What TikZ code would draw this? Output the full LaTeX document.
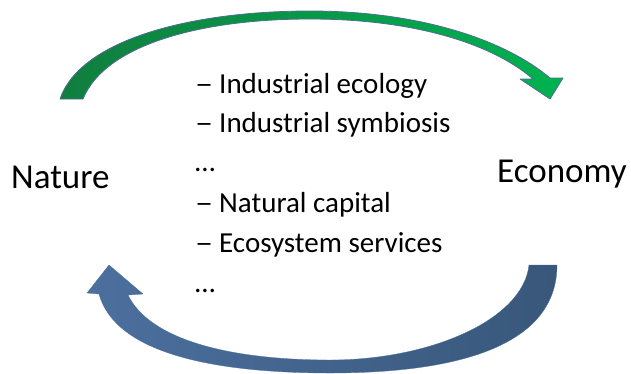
\documentclass[tikz,border=0pt]{standalone}
\usepackage{fontspec}
\setmainfont{Carlito}
\usetikzlibrary{positioning}
\definecolor{leafdark}{RGB}{16,126,62}
\definecolor{leaflight}{RGB}{0,178,80}
\definecolor{rimblue}{RGB}{79,109,150}
\definecolor{seablue}{RGB}{76,111,158}
\definecolor{deepblue}{RGB}{56,87,122}
\tikzstyle{bigword} = [inner sep=0pt, anchor=base west, font=\fontsize{35}{42}\selectfont]
\tikzstyle{listitem} = [inner sep=0pt, anchor=base west, font=\fontsize{29}{35}\selectfont]
\tikzstyle{greenarrow} = [left color=leafdark, right color=leaflight, draw=rimblue, line width=0.8pt, line join=round]
\tikzstyle{bluearrow} = [left color=seablue, right color=deepblue, draw=seablue, line width=0.3pt, line join=round]
\newcommand{\itemdash}{\makebox[24pt][l]{\scalebox{1.25}[1]{–}}}

\begin{document}
\begin{tikzpicture}[x=1pt, y=-1pt]
\useasboundingbox (0,0) rectangle (631,373);

\node (nature) [bigword] at (11,188) {Nature};
\node (economy) [bigword] at (497,182) {Economy};

\node (item1) [listitem] at (195,93) {\itemdash Industrial ecology};
\node (item2) [listitem] at (195,132) {\itemdash Industrial symbiosis};
\node (item3) [listitem] at (195,171) {…};
\node (item4) [listitem] at (195,212) {\itemdash Natural capital};
\node (item5) [listitem] at (195,252) {\itemdash Ecosystem services};
\node (item6) [listitem] at (195,292) {…};

% nature to economy
\draw [greenarrow] (60,99) .. controls (80,40) and (190,11) .. (310,11)
    .. controls (420,11) and (505,40) .. (550,78)
    -- (563,78) -- (550,99) -- (520,79) -- (533,79)
    .. controls (490,42) and (410,19) .. (310,19)
    .. controls (200,19) and (105,45) .. (83,99) -- cycle;

% economy to nature
\draw [bluearrow] (557,265) .. controls (557,345) and (460,373) .. (330,373)
    .. controls (210,373) and (115,352) .. (99,294)
    -- (87,293) -- (109,265) -- (143,294) -- (128,295)
    .. controls (150,340) and (230,360) .. (330,360)
    .. controls (430,360) and (523,320) .. (529,265) -- cycle;

\end{tikzpicture}
\end{document}
